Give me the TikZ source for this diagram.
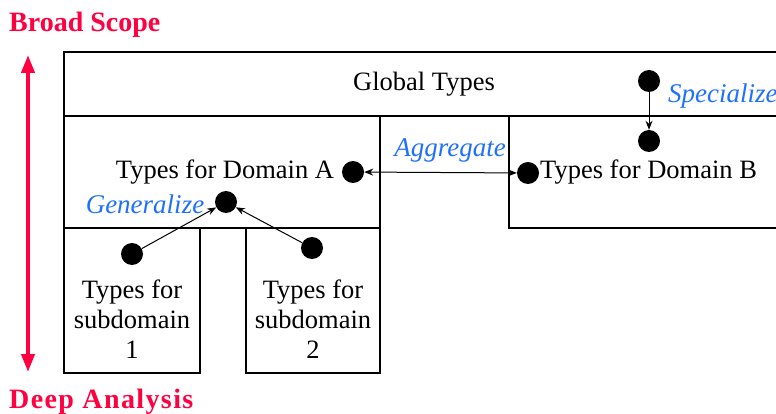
\documentclass[tikz,border=0pt]{standalone}
\usepackage{fontspec}
\setmainfont{Liberation Serif}
\usetikzlibrary{arrows.meta}
\definecolor{scopered}{HTML}{FF0040}
\definecolor{opblue}{HTML}{2070FF}
\tikzset{
  frame/.style={draw=black, line width=1.4pt},
  dot/.style={circle, fill=black, inner sep=0pt, minimum size=22pt},
  typetext/.style={font=\fontsize{26.5}{30}\selectfont, inner sep=0pt, align=center, anchor=base},
  optext/.style={font=\fontsize{27}{30}\selectfont\itshape, text=opblue, inner sep=0pt, anchor=base},
  scopetext/.style={font=\fontsize{28}{32}\selectfont\bfseries, text=scopered, inner sep=0pt, anchor=base west},
  link/.style={draw=black, line width=1pt, -{Stealth[length=9pt,width=7pt]}},
}
\begin{document}
\begin{tikzpicture}[x=1pt,y=-1pt]
\useasboundingbox (0,0) rectangle (776,414);
\clip (0,0) rectangle (776,414);

% boxes of the type hierarchy
\draw[frame] (64,116) rectangle (800,52);
\draw[frame] (64,116) rectangle (380,228);
\draw[frame] (380,228) -- (380,373);
\draw[frame] (509,116) rectangle (800,228);
\draw[frame] (64,228) rectangle (200,373);
\draw[frame] (246,228) rectangle (380,373);

% box titles (multi-line titles sit on the baseline of their last line)
\node[typetext] (global) at (424,91) {Global Types};
\node[typetext] (doma) at (225,179) {Types for Domain A};
\node[typetext, anchor=base west] (domb) at (540,179) {Types for Domain B};
\node[typetext] (sub1) at (132,358) {Types for\\subdomain\\1};
\node[typetext] (sub2) at (313,358) {Types for\\subdomain\\2};

% connection points
\node[dot] (dglobal) at (649,81) {};
\node[dot] (dbtop) at (649,141) {};
\node[dot] (dbleft) at (528,173) {};
\node[dot] (dadom) at (353,172) {};
\node[dot] (dgen) at (226,202) {};
\node[dot] (dsub1) at (132,254) {};
\node[dot] (dsub2) at (312,248) {};

% relations
\draw[link] (dglobal) -- (dbtop);
\draw[link, {Stealth[length=9pt,width=7pt]}-{Stealth[length=9pt,width=7pt]}] (dadom) -- (dbleft);
\draw[link] (dsub1) -- (dgen);
\draw[link] (dsub2) -- (dgen);

% relation labels
\node[optext, anchor=base west] (lspec) at (668,103) {Specialize};
\node[optext] (lagg) at (450,157) {Aggregate};
\node[optext] (lgen) at (145,213) {Generalize};

% scope axis
\node[scopetext] (broad) at (9,32) {Broad Scope};
\node[scopetext] (deep) at (9,408) {\addfontfeature{LetterSpace=5}Deep Analysis};
\coordinate (axtop) at (28,55);
\coordinate (axbot) at (28,372);
\draw[scopered, line width=4pt, {Triangle[length=18pt,width=13pt]}-{Triangle[length=18pt,width=13pt]}] (axtop) -- (axbot);
\end{tikzpicture}
\end{document}
